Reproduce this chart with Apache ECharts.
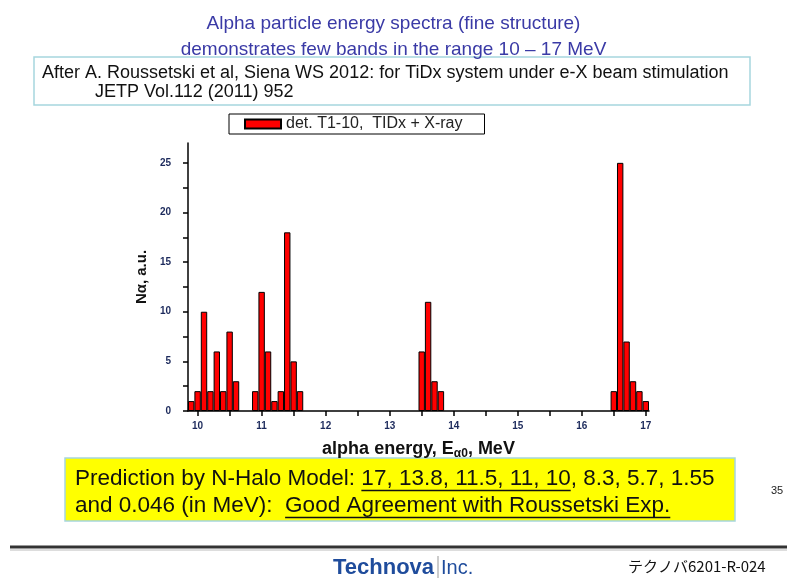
<html>
<head>
<meta charset="utf-8">
<script src="https://cdn.jsdelivr.net/npm/echarts@6/dist/echarts.min.js"></script>
</head>
<body style="margin:0;background:#fff">
    <div id="main" style="width:787px;height:578px;"></div>
</body>
</html>
<script>
    // bin centres (MeV) and counts
    var energies = [9.9, 10.0, 10.1, 10.2, 10.3, 10.4, 10.5, 10.6,
        10.9, 11.0, 11.1, 11.2, 11.3, 11.4, 11.5, 11.6,
        13.5, 13.6, 13.7, 13.8,
        16.5, 16.6, 16.7, 16.8, 16.9, 17.0];
    var counts = [1, 2, 10, 2, 6, 2, 8, 3,
        2, 12, 6, 1, 2, 18, 5, 2,
        6, 11, 3, 2,
        2, 25, 7, 3, 2, 1];
    var xLabels = [10, 11, 12, 13, 14, 15, 16, 17];
    var xTicks = [10, 10.5, 11, 11.5, 12, 12.5, 13, 13.5, 14, 14.5, 15, 15.5, 16, 16.5, 17];
    var yLabels = [0, 5, 10, 15, 20, 25];
    var yTicks = [0, 2.5, 5, 7.5, 10, 12.5, 15, 17.5, 20, 22.5, 25];

    var seriesName = 'det. T1-10,  TIDx + X-ray';
    var predLine1a = 'Prediction by N-Halo Model: ';
    var predLine1b = '17, 13.8, 11.5, 11, 10';
    var predLine1c = ', 8.3, 5.7, 1.55';
    var predLine2a = 'and 0.046 (in MeV):  ';
    var predLine2b = 'Good Agreement with Roussetski Exp.';

    var sans = '"Liberation Sans", Arial, sans-serif';
    var predFont = '22.5px ' + sans;

    // measure text so the underlines sit under the right words
    var ctx = document.createElement('canvas').getContext('2d');
    ctx.font = predFont;
    function w(t) { return ctx.measureText(t).width; }
    var px = 75;
    var u1x = px + w(predLine1a), u1w = w(predLine1b);
    var u2x = px + w(predLine2a), u2w = w(predLine2b);

    var chartDom = document.getElementById('main');
    var myChart = echarts.init(chartDom);
    var option;

    var axisLabelStyle = { color: '#1c2a5c', fontWeight: 'bold', fontSize: 10, fontFamily: sans };

    option = {
        animation: false,
        backgroundColor: '#fff',
        title: {
            text: 'Alpha particle energy spectra (fine structure)\ndemonstrates few bands in the range 10 \u2013 17 MeV',
            left: 'center',
            top: 6,
            textStyle: { color: '#3a3aa6', fontSize: 19, fontWeight: 'normal', fontFamily: sans, lineHeight: 26 }
        },
        legend: {
            left: 229,
            top: 114,
            padding: [2, 22, 2, 15],
            itemGap: 0,
            itemWidth: 36,
            itemHeight: 9,
            borderColor: '#000',
            borderWidth: 1,
            backgroundColor: '#fff',
            textStyle: { fontSize: 16, lineHeight: 13, color: '#222', fontFamily: sans },
            data: [{ name: seriesName, icon: 'rect' }]
        },
        grid: {
            left: 188,
            top: 143,
            width: 461,
            height: 268,
            containLabel: false,
            outerBoundsMode: 'none'
        },
        xAxis: {
            type: 'value',
            min: 9.85,
            max: 17.05,
            splitLine: { show: false },
            axisLine: { lineStyle: { color: '#000', width: 1.5 } },
            axisTick: { inside: false, length: 5, lineStyle: { color: '#000', width: 1.5 }, customValues: xTicks },
            axisLabel: Object.assign({ margin: 10, customValues: xLabels }, axisLabelStyle),
            name: '{n|alpha energy, E}{s|\u03b10}{n|, MeV}',
            nameLocation: 'middle',
            nameGap: 27,
            nameTextStyle: {
                rich: {
                    n: { fontSize: 18, fontWeight: 'bold', color: '#111', fontFamily: sans },
                    s: { fontSize: 12, fontWeight: 'bold', color: '#111', fontFamily: sans, padding: [10, 0, 0, 0] }
                }
            }
        },
        yAxis: {
            type: 'value',
            min: 0,
            max: 27,
            splitLine: { show: false },
            axisLine: { show: true, lineStyle: { color: '#000', width: 1.5 } },
            axisTick: { show: true, inside: false, length: 5, lineStyle: { color: '#000', width: 1.5 }, customValues: yTicks },
            axisLabel: Object.assign({ margin: 17, customValues: yLabels }, axisLabelStyle),
            name: 'N\u03b1, a.u.',
            nameLocation: 'middle',
            nameGap: 38,
            nameTextStyle: { fontSize: 15, fontWeight: 'bold', color: '#111', fontFamily: sans }
        },
        series: [
            {
                name: seriesName,
                type: 'bar',
                barWidth: 6.4,
                itemStyle: { color: '#ff0000', borderColor: '#000', borderWidth: 1 },
                data: energies.map(function (e, i) { return [e, counts[i]]; })
            }
        ],
        graphic: [
            { type: 'rect', shape: { x: 34, y: 57, width: 716, height: 48 },
              style: { fill: null, stroke: '#a6d6de', lineWidth: 1.5 } },
            { type: 'text', x: 42, y: 64,
              style: { text: 'After A. Roussetski et al, Siena WS 2012: for TiDx system under e-X beam stimulation', font: '18px ' + sans, fill: '#111' } },
            { type: 'text', x: 95, y: 83,
              style: { text: 'JETP Vol.112 (2011) 952', font: '18px ' + sans, fill: '#111' } },

            { type: 'rect', shape: { x: 65, y: 458, width: 670, height: 63 },
              style: { fill: '#ffff00', stroke: '#a6d6de', lineWidth: 1.5 } },
            { type: 'text', x: px, y: 467,
              style: { text: predLine1a + predLine1b + predLine1c, font: predFont, fill: '#111' } },
            { type: 'text', x: px, y: 494,
              style: { text: predLine2a + predLine2b, font: predFont, fill: '#111' } },
            { type: 'line', shape: { x1: u1x, y1: 490.5, x2: u1x + u1w, y2: 490.5 }, style: { stroke: '#111', lineWidth: 1.5 } },
            { type: 'line', shape: { x1: u2x, y1: 517.5, x2: u2x + u2w, y2: 517.5 }, style: { stroke: '#111', lineWidth: 1.5 } },

            { type: 'text', x: 771, y: 485, style: { text: '35', font: '11px ' + sans, fill: '#222' } },

            { type: 'line', shape: { x1: 10, y1: 547, x2: 787, y2: 547 }, style: { stroke: '#333', lineWidth: 3 } },
            { type: 'line', shape: { x1: 10, y1: 550, x2: 787, y2: 550 }, style: { stroke: '#bbb', lineWidth: 1 } },
            { type: 'text', x: 333, y: 557, style: { text: 'Technova', font: 'bold 22px ' + sans, fill: '#1f4c9c' } },
            { type: 'line', shape: { x1: 438, y1: 556, x2: 438, y2: 578 }, style: { stroke: '#999', lineWidth: 1 } },
            { type: 'text', x: 441, y: 558, style: { text: 'Inc.', font: '20px ' + sans, fill: '#1f4c9c' } },
            { type: 'text', x: 628, y: 559, style: { text: '\u30c6\u30af\u30ce\u30d06201-R-024', font: '15px "Noto Sans CJK JP", ' + sans, fill: '#111' } }
        ]
    };

    option && myChart.setOption(option);
</script>
